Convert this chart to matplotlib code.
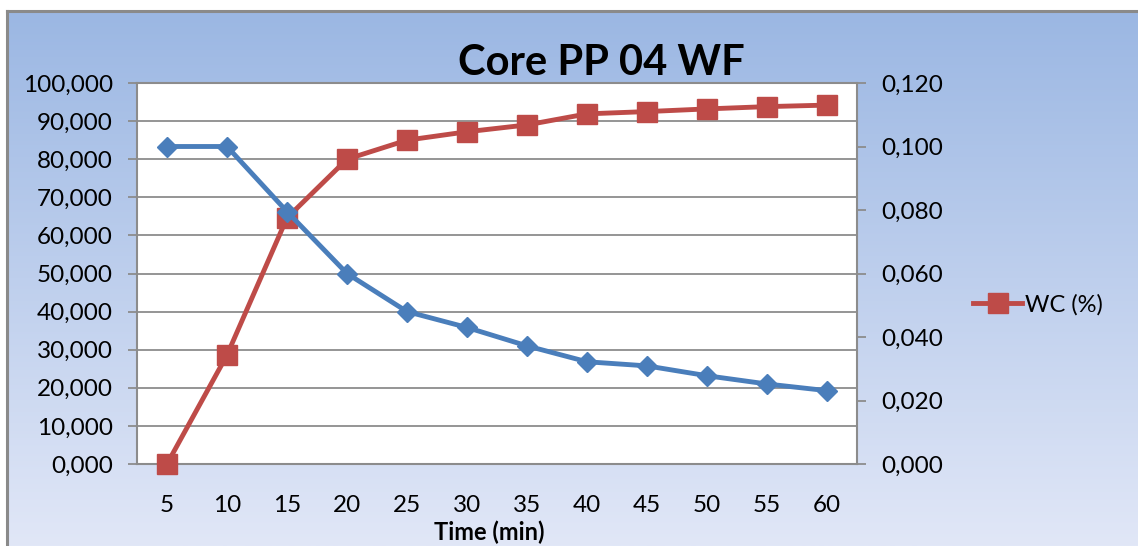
import matplotlib
matplotlib.use("Agg")
import matplotlib.pyplot as plt
import numpy as np
from matplotlib.ticker import FuncFormatter, MultipleLocator

plt.rcParams['font.family'] = ['Lato', 'DejaVu Sans']

# ---- data ----
time_labels = ["5", "10", "15", "20", "25", "30", "35", "40", "45", "50", "55", "60"]
wc_percent = [0.0, 28.6, 64.6, 80.0, 85.0, 87.2, 89.0, 91.9, 92.5, 93.2, 93.8, 94.2]
right_series = [0.100, 0.100, 0.0795, 0.060, 0.048, 0.043, 0.0372, 0.0322, 0.0309, 0.0278, 0.0252, 0.0231]
title = "Core PP 04 WF"
x_title = "Time (min)"
legend_label = "WC (%)"

W, H = 1138, 546
fig = plt.figure(figsize=(W / 100, H / 100), dpi=100)
fig.patch.set_facecolor("white")

# background gradient frame
bg = fig.add_axes([7 / W, 0, 1 - 7 / W, 1 - 11 / H])
top = np.array([155, 183, 227]) / 255
bot = np.array([225, 231, 247]) / 255
t = np.linspace(0, 1, 256)[:, None]
grad = (top[None, :] * (1 - t) + bot[None, :] * t)[:, None, :]
bg.imshow(grad, aspect="auto", extent=[0, 1, 0, 1], origin="upper")
bg.set_xlim(0, 1)
bg.set_ylim(0, 1)
bg.set_xticks([])
bg.set_yticks([])
for s in ["right", "bottom"]:
    bg.spines[s].set_visible(False)
for s in ["left", "top"]:
    bg.spines[s].set_color("#8a8a8a")
    bg.spines[s].set_linewidth(2.2)
bg.set_zorder(0)

# main axes
L, R, T, B = 137, 857, 83, 464
ax = fig.add_axes([L / W, 1 - B / H, (R - L) / W, (B - T) / H])
ax.set_facecolor("white")
ax.set_zorder(1)
ax2 = ax.twinx()
ax2.set_zorder(2)

x = np.arange(len(time_labels))
grid_c = "#8c8c8c"

red = "#BE4B48"
blue = "#4A7EBB"
line_red, = ax.plot(x, wc_percent, color=red, lw=3.5, marker="s", ms=14,
                    markeredgecolor=red, label=legend_label, zorder=3,
                    clip_on=False)
ax2.plot(x, right_series, color=blue, lw=3.5, marker="D", ms=10,
         markeredgecolor=blue, zorder=3, clip_on=False)

ax.set_xlim(-0.5, len(time_labels) - 0.5)
ax.set_ylim(0, 100)
ax2.set_ylim(0, 0.12)
ax.yaxis.set_major_locator(MultipleLocator(10))
ax2.yaxis.set_major_locator(MultipleLocator(0.02))
fmt = FuncFormatter(lambda v, p: f"{v:.3f}".replace(".", ","))
ax.yaxis.set_major_formatter(fmt)
ax2.yaxis.set_major_formatter(fmt)
ax.set_xticks(x)
ax.set_xticklabels(time_labels)

ax.grid(axis="y", color=grid_c, lw=1.3)
ax.set_axisbelow(True)

for a in (ax, ax2):
    for s in a.spines.values():
        s.set_color(grid_c)
        s.set_linewidth(1.5)
ax.spines["right"].set_visible(False)
ax2.spines["left"].set_visible(False)
ax2.spines["top"].set_visible(False)
ax2.spines["bottom"].set_visible(False)
ax.spines["top"].set_color(grid_c)

ax.tick_params(axis="y", direction="out", length=6.5, width=1.3, color=grid_c,
               labelsize=17.5, pad=11, labelcolor="black")
ax2.tick_params(axis="y", direction="out", length=6.5, width=1.3, color=grid_c,
                labelsize=17.5, pad=11, labelcolor="black")
ax.tick_params(axis="x", length=0, labelsize=17.5, pad=22, labelcolor="black")

ax.set_xlabel(x_title, fontsize=17, fontweight="bold", va="center")
ax.xaxis.set_label_coords((489 - L) / (R - L), (B - 532) / (B - T))

fig.text(601 / W, 1 - 63 / H, title, fontsize=30, fontweight="bold",
         ha="center", va="center")

fig.legend(handles=[line_red], loc="center left",
           bbox_to_anchor=(961 / W, 1 - 305 / H), frameon=False,
           fontsize=17, handlelength=2.1, handletextpad=0.1, borderpad=0)

fig.savefig("out.png", dpi=100, facecolor=fig.get_facecolor())
